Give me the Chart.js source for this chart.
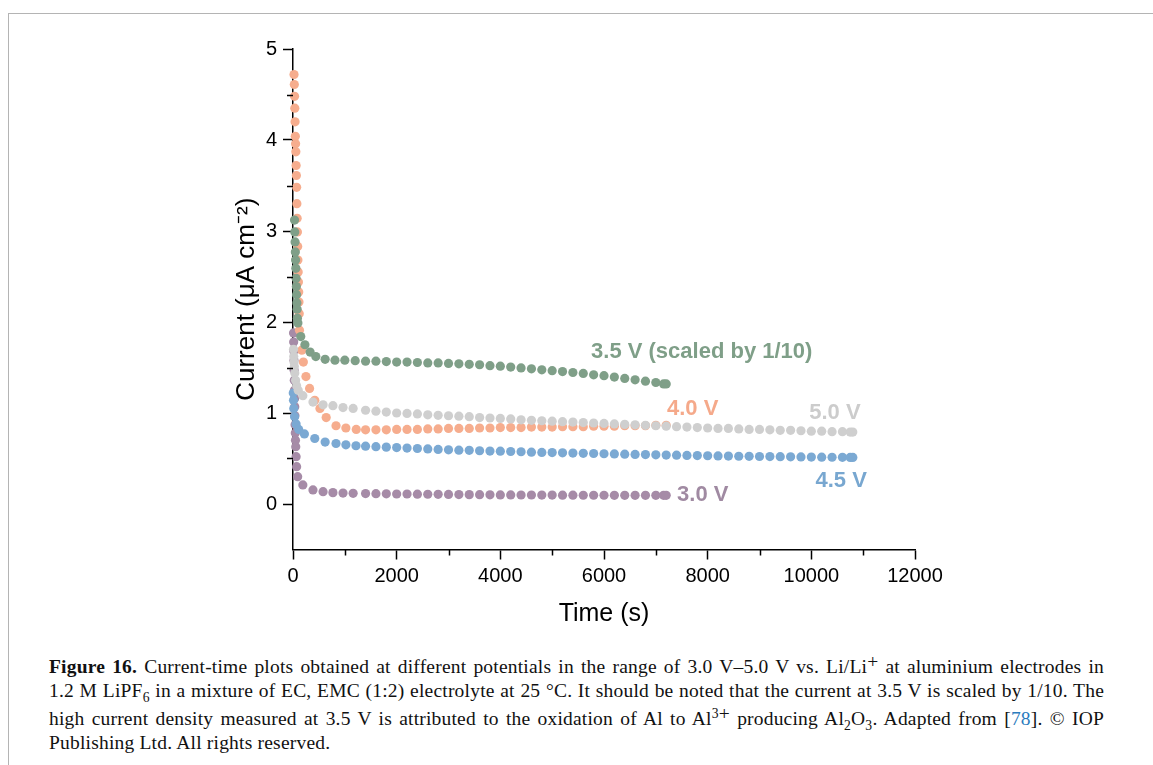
<!DOCTYPE html>
<html>
<head>
<meta charset="utf-8">
<script src="https://cdn.jsdelivr.net/npm/chart.js@4.4.1/dist/chart.umd.min.js"></script>
<style>
  html, body { margin: 0; padding: 0; background: #fff; }
  body { width: 1153px; height: 765px; position: relative; overflow: hidden; }
  #frame { position: absolute; left: 8px; top: 13px; right: 0; bottom: 0;
           border-top: 1.5px solid #b4b4b4; border-left: 1.5px solid #b4b4b4; }
  #chart { position: absolute; left: 0; top: 0; }
  #caption { position: absolute; left: 49px; top: 650px; width: 1055px;
             font-family: "Liberation Serif", "Times New Roman", serif;
             font-size: 19.5px; letter-spacing: 0.2px; line-height: 23.7px; color: #111; }
  #caption .j { text-align: justify; text-align-last: justify; }
  #caption sub, #caption sup { line-height: 0; font-size: 70%; }
  #caption .plus { font-size: 100%; vertical-align: 5px; }
  #caption a { color: #2b7bbd; text-decoration: none; }
</style>
</head>
<body>
<div id="frame"></div>
<canvas id="chart" width="1153" height="640"></canvas>
<div id="caption">
  <div class="j"><b>Figure 16.</b> Current-time plots obtained at different potentials in the range of 3.0 V–5.0 V vs. Li/Li<span class="plus">+</span> at aluminium electrodes in</div>
  <div class="j">1.2 M LiPF<sub>6</sub> in a mixture of EC, EMC (1:2) electrolyte at 25 °C. It should be noted that the current at 3.5 V is scaled by 1/10. The</div>
  <div class="j">high current density measured at 3.5 V is attributed to the oxidation of Al to Al<sup>3</sup><span class="plus">+</span> producing Al<sub>2</sub>O<sub>3</sub>. Adapted from [<a>78</a>]. © IOP</div>
  <div>Publishing Ltd. All rights reserved.</div>
</div>
<script>
// tick values
const xTicks = [0, 2000, 4000, 6000, 8000, 10000, 12000];
const xMinor = [1000, 3000, 5000, 7000, 9000, 11000];
const yTicks = [0, 1, 2, 3, 4, 5];
const yMinor = [0.5, 1.5, 2.5, 3.5, 4.5];

// 3.5 V (scaled by 1/10)
const t35 = [30, 35, 40, 45, 50, 55, 60, 65, 70, 75, 80, 85,
  95, 150, 230, 330, 440, 620, 810,
  1000, 1200, 1400, 1600, 1800, 2000, 2200, 2400, 2600, 2800, 3000, 3200, 3400, 3600, 3800, 4000,
  4200, 4400, 4600, 4800, 5000, 5200, 5400, 5600, 5800, 6000, 6200, 6400, 6600, 6800, 7000, 7150, 7200];
const i35 = [3.12, 2.99, 2.88, 2.77, 2.68, 2.59, 2.48, 2.39, 2.30, 2.21, 2.14, 2.04,
  1.99, 1.84, 1.75, 1.67, 1.62, 1.59, 1.58,
  1.58, 1.575, 1.57, 1.57, 1.565, 1.56, 1.56, 1.555, 1.55, 1.55, 1.545, 1.54, 1.535, 1.53, 1.52, 1.515,
  1.505, 1.495, 1.485, 1.475, 1.465, 1.455, 1.445, 1.435, 1.42, 1.41, 1.395, 1.38, 1.365, 1.35, 1.335, 1.32, 1.32];

// 4.0 V
const t40 = [20, 25, 30, 35, 40, 45, 50, 55, 60, 65, 70, 75, 80, 85, 90, 95, 100, 105, 110, 115, 120, 125,
  170, 200, 250, 320, 420, 520, 640, 830, 1020, 1220,
  1400, 1600, 1800, 2000, 2200, 2400, 2600, 2800, 3000, 3200, 3400, 3600, 3800, 4000, 4200,
  4400, 4600, 4800, 5000, 5200, 5400, 5600, 5800, 6000, 6200, 6400, 6600, 6800, 7000, 7200];
const i40 = [4.72, 4.61, 4.48, 4.35, 4.20, 4.04, 3.96, 3.87, 3.72, 3.61, 3.48, 3.30, 3.14, 2.99, 2.83, 2.68, 2.55, 2.44, 2.33, 2.22, 2.09, 1.91,
  1.69, 1.56, 1.40, 1.27, 1.14, 1.05, 0.95, 0.86, 0.835, 0.82,
  0.815, 0.815, 0.815, 0.82, 0.82, 0.82, 0.825, 0.825, 0.83, 0.83, 0.83, 0.835, 0.835, 0.84, 0.84,
  0.84, 0.845, 0.845, 0.845, 0.85, 0.85, 0.85, 0.855, 0.855, 0.855, 0.86, 0.86, 0.86, 0.865, 0.865];

// 5.0 V
const t50 = [10, 15, 20, 25, 35, 50, 70, 100,
  190, 385, 580, 770, 965, 1160,
  1400, 1600, 1800, 2000, 2200, 2400, 2600, 2800, 3000, 3200, 3400, 3600, 3800, 4000, 4200, 4400,
  4600, 4800, 5000, 5200, 5400, 5600, 5800, 6000, 6200, 6400, 6600, 6800, 7000, 7200, 7400, 7600,
  7800, 8000, 8200, 8400, 8600, 8800, 9000, 9200, 9400, 9600, 9800, 10000, 10200, 10400, 10600, 10750, 10800];
const i50 = [1.70, 1.62, 1.56, 1.51, 1.44, 1.36, 1.30, 1.25,
  1.19, 1.12, 1.09, 1.08, 1.06, 1.05,
  1.03, 1.02, 1.01, 1.00, 0.995, 0.99, 0.98, 0.975, 0.97, 0.965, 0.96, 0.95, 0.945, 0.94, 0.935, 0.925,
  0.92, 0.915, 0.91, 0.905, 0.90, 0.895, 0.89, 0.885, 0.88, 0.875, 0.87, 0.865, 0.86, 0.855, 0.85, 0.845,
  0.84, 0.835, 0.83, 0.83, 0.825, 0.82, 0.82, 0.815, 0.81, 0.81, 0.805, 0.80, 0.80, 0.795, 0.795, 0.79, 0.79];

// 4.5 V
const t45 = [5, 10, 15, 30, 60, 110,
  220, 420, 620, 830, 1020, 1215,
  1400, 1600, 1800, 2000, 2200, 2400, 2600, 2800, 3000, 3200, 3400, 3600, 3800, 4000, 4200, 4400,
  4600, 4800, 5000, 5200, 5400, 5600, 5800, 6000, 6200, 6400, 6600, 6800, 7000, 7200, 7400, 7600,
  7800, 8000, 8200, 8400, 8600, 8800, 9000, 9200, 9400, 9600, 9800, 10000, 10200, 10400, 10600, 10750, 10800];
const i45 = [1.22, 1.14, 1.05, 0.96, 0.88, 0.82,
  0.77, 0.72, 0.68, 0.665, 0.65, 0.64,
  0.635, 0.63, 0.625, 0.62, 0.615, 0.61, 0.605, 0.60, 0.595, 0.592, 0.59, 0.585, 0.582, 0.58, 0.577, 0.574,
  0.57, 0.567, 0.565, 0.562, 0.56, 0.557, 0.555, 0.552, 0.55, 0.548, 0.545, 0.543, 0.54, 0.538, 0.536, 0.534,
  0.532, 0.53, 0.528, 0.527, 0.525, 0.524, 0.522, 0.521, 0.52, 0.518, 0.517, 0.516, 0.515, 0.514, 0.513, 0.512, 0.512];

// 3.0 V
const t30 = [10, 13, 16, 19, 22, 25, 28, 31, 34, 37, 40, 44, 48, 53, 60, 70, 90,
  190, 385, 580, 770, 965, 1160,
  1400, 1600, 1800, 2000, 2200, 2400, 2600, 2800, 3000, 3200, 3400, 3600, 3800, 4000, 4200,
  4400, 4600, 4800, 5000, 5200, 5400, 5600, 5800, 6000, 6200, 6400, 6600, 6800, 7000, 7150, 7200];
const i30 = [1.88, 1.78, 1.68, 1.58, 1.47, 1.36, 1.25, 1.16, 1.07, 0.97, 0.87, 0.78, 0.70, 0.63, 0.52, 0.41, 0.30,
  0.21, 0.155, 0.135, 0.125, 0.12, 0.117,
  0.115, 0.113, 0.112, 0.11, 0.11, 0.108, 0.107, 0.106, 0.105, 0.104, 0.103, 0.102, 0.101, 0.10, 0.10,
  0.099, 0.099, 0.098, 0.098, 0.097, 0.097, 0.096, 0.096, 0.096, 0.095, 0.095, 0.095, 0.095, 0.095, 0.095, 0.095];

const green = '#7f9f88', orange = '#f6ad8e', grey = '#cfcfcf', blue = '#7ba9d3', purple = '#a68ba7';

function pts(t, v) {
  return t.map((x, k) => ({ x: x, y: v[k] }));
}

// series labels anchored in data units (left edge, vertical middle)
const labels = [
  { text: '3.5 V (scaled by 1/10)', color: green, x: 5750, y: 1.67 },
  { text: '4.0 V', color: '#f5a98a', x: 7215, y: 1.04 },
  { text: '5.0 V', color: '#cccccc', x: 9960, y: 1.0 },
  { text: '4.5 V', color: '#78a7d0', x: 10080, y: 0.25 },
  { text: '3.0 V', color: '#a08aa2', x: 7410, y: 0.1 }
];

const extras = {
  id: 'extras',
  afterDraw(chart) {
    const ctx = chart.ctx;
    const xs = chart.scales.x, ys = chart.scales.y;
    const area = chart.chartArea;
    ctx.save();
    ctx.strokeStyle = '#000';
    ctx.lineWidth = 1.5;
    ctx.beginPath();
    yMinor.forEach(v => {
      const py = Math.round(ys.getPixelForValue(v)) + 0.5;
      ctx.moveTo(area.left - 6, py);
      ctx.lineTo(area.left, py);
    });
    xMinor.forEach(v => {
      const px = Math.round(xs.getPixelForValue(v)) + 0.5;
      ctx.moveTo(px, area.bottom);
      ctx.lineTo(px, area.bottom + 6);
    });
    ctx.stroke();

    ctx.font = 'bold 22px "Liberation Sans", Arial, sans-serif';
    ctx.textAlign = 'left';
    ctx.textBaseline = 'middle';
    labels.forEach(l => {
      ctx.fillStyle = l.color;
      ctx.fillText(l.text, xs.getPixelForValue(l.x), ys.getPixelForValue(l.y));
    });
    ctx.restore();
  }
};

const font = '"Liberation Sans", Arial, sans-serif';

function series(data, color) {
  return {
    data: data,
    showLine: false,
    pointRadius: 4.6,
    pointHoverRadius: 4.6,
    pointBorderWidth: 0,
    pointBackgroundColor: color,
    pointBorderColor: color,
    clip: false
  };
}

new Chart(document.getElementById('chart'), {
  type: 'scatter',
  data: {
    datasets: [
      series(pts(t35, i35), green),
      series(pts(t50, i50), grey),
      series(pts(t40, i40), orange),
      series(pts(t45, i45), blue),
      series(pts(t30, i30), purple)
    ]
  },
  options: {
    responsive: false,
    animation: false,
    events: [],
    layout: { padding: { left: 0, top: 49, right: 238, bottom: 0 } },
    plugins: { legend: { display: false }, tooltip: { enabled: false } },
    scales: {
      x: {
        type: 'linear',
        min: 0,
        max: 12000,
        afterBuildTicks: s => { s.ticks = xTicks.map(v => ({ value: v })); },
        afterFit: s => { s.height = 90.5; },
        ticks: { color: '#000', font: { family: font, size: 20 }, padding: 5, maxRotation: 0,
                 callback: v => String(v) },
        grid: { drawOnChartArea: false, drawTicks: true, tickLength: 10, tickColor: '#000', tickWidth: 1.5 },
        border: { display: true, color: '#000', width: 1.5 },
        title: { display: true, text: 'Time (s)', color: '#000',
                 font: { family: font, size: 25 }, padding: { top: 0, bottom: 11 } }
      },
      y: {
        type: 'linear',
        min: -0.5,
        max: 5,
        afterBuildTicks: s => { s.ticks = yTicks.map(v => ({ value: v })); },
        afterFit: s => { s.width = 293; },
        ticks: { color: '#000', font: { family: font, size: 20 }, padding: 6,
                 callback: v => String(v) },
        grid: { drawOnChartArea: false, drawTicks: true, tickLength: 10, tickColor: '#000', tickWidth: 1.5 },
        border: { display: true, color: '#000', width: 1.5 },
        title: { display: true, text: 'Current (μA cm⁻²)', color: '#000',
                 font: { family: font, size: 26 }, padding: { top: 231, bottom: 0 } }
      }
    }
  },
  plugins: [extras]
});
</script>
</body>
</html>
